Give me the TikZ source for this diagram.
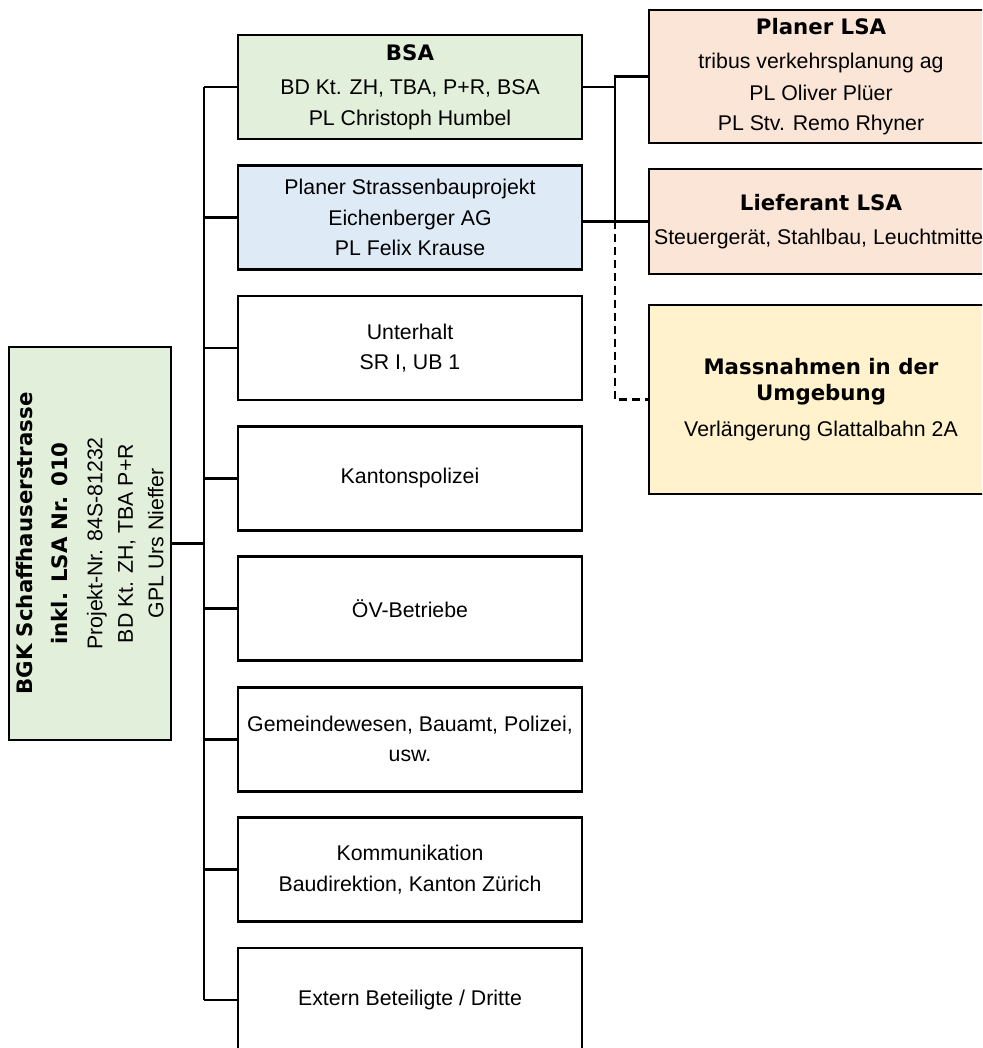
\documentclass[tikz,border=0pt]{standalone}
\usepackage{fontspec}
\setmainfont{Liberation Sans}
\newfontfamily\heavy{DejaVu Sans}[BoldFont={DejaVu Sans Bold}]
\usepackage{tikz}

\definecolor{gruen}{HTML}{E2EFDA}
\definecolor{blau}{HTML}{DEEBF7}
\definecolor{lachs}{HTML}{FBE5D6}
\definecolor{gelb}{HTML}{FFF2CC}
\newcommand{\titel}[1]{{\heavy\bfseries #1}}

\begin{document}
\begin{tikzpicture}[x=1pt, y=-1pt, line width=2.8pt,
        box/.style={draw, rectangle, align=center, inner sep=0pt,
            font=\fontsize{21.3}{30.5}\selectfont},
        mitte/.style={box, minimum width=344, minimum height=104},
        rechts/.style={box, minimum width=344}]
        \useasboundingbox (0, 0) rectangle (982, 1048);
        \clip (0, 0) rectangle (982, 1048);

        \node[box, fill=gruen, minimum width=393, minimum height=162, rotate=90] (root) at (90, 543.5)
            {\titel{BGK Schaffhauserstrasse}\\[5pt] \titel{inkl. LSA Nr. 010}\\[4pt] Projekt-Nr. 84S-81232\\ BD Kt. ZH, TBA P+R\\ GPL Urs Nieffer};

        \node[mitte, fill=gruen] (bsa) at (410, 87) {\titel{BSA}\\[4pt] BD Kt. ZH, TBA, P+R, BSA\\ PL Christoph Humbel};
        \node[mitte, fill=blau] (strasse) at (410, 217.4) {Planer Strassenbauprojekt\\ Eichenberger AG\\ PL Felix Krause};
        \node[mitte] (unterhalt) at (410, 347.9) {Unterhalt\\ SR I, UB 1};
        \node[mitte] (polizei) at (410, 478.3) {Kantonspolizei};
        \node[mitte] (oev) at (410, 608.7) {ÖV-Betriebe};
        \node[mitte] (gemeinde) at (410, 739.1) {Gemeindewesen, Bauamt, Polizei,\\ usw.};
        \node[mitte] (komm) at (410, 869.6) {Kommunikation\\ Baudirektion, Kanton Zürich};
        \node[mitte] (extern) at (410, 1000) {Extern Beteiligte / Dritte};

        \node[rechts, fill=lachs, minimum height=133] (planer) at (821, 76.5)
            {\titel{Planer LSA}\\[4pt] tribus verkehrsplanung ag\\[1pt] PL Oliver Plüer\\ PL Stv. Remo Rhyner};
        \node[rechts, fill=lachs, minimum height=105] (lief) at (821, 221.5)
            {\titel{Lieferant LSA}\\[4pt] Steuergerät, Stahlbau, Leuchtmittel};
        \node[rechts, fill=gelb, minimum height=189] (mass) at (821, 399.5)
            {\titel{Massnahmen in der}\\[-4pt] \titel{Umgebung}\\[5pt] Verlängerung Glattalbahn 2A};

        % Stamm links
        \coordinate (tr) at (204, 0);
        \draw (root.south) -- (root.south -| tr);
        \draw (bsa.west -| tr) -- (extern.west -| tr);
        \foreach \n in {bsa, strasse, unterhalt, polizei, oev, gemeinde, komm, extern}
            \draw (\n.west -| tr) -- (\n.west);

        % rechte Seite
        \coordinate (rt) at (615, 0);
        \draw (bsa.east) -- (bsa.east -| rt) |- (planer.west);
        \draw (bsa.east -| rt) -- (lief.west -| rt);
        \draw (lief.west -| strasse.east) -- (lief.west);
        \draw[dash pattern=on 8pt off 5pt] (lief.west -| rt) |- (mass.west);
    \end{tikzpicture}
\end{document}
